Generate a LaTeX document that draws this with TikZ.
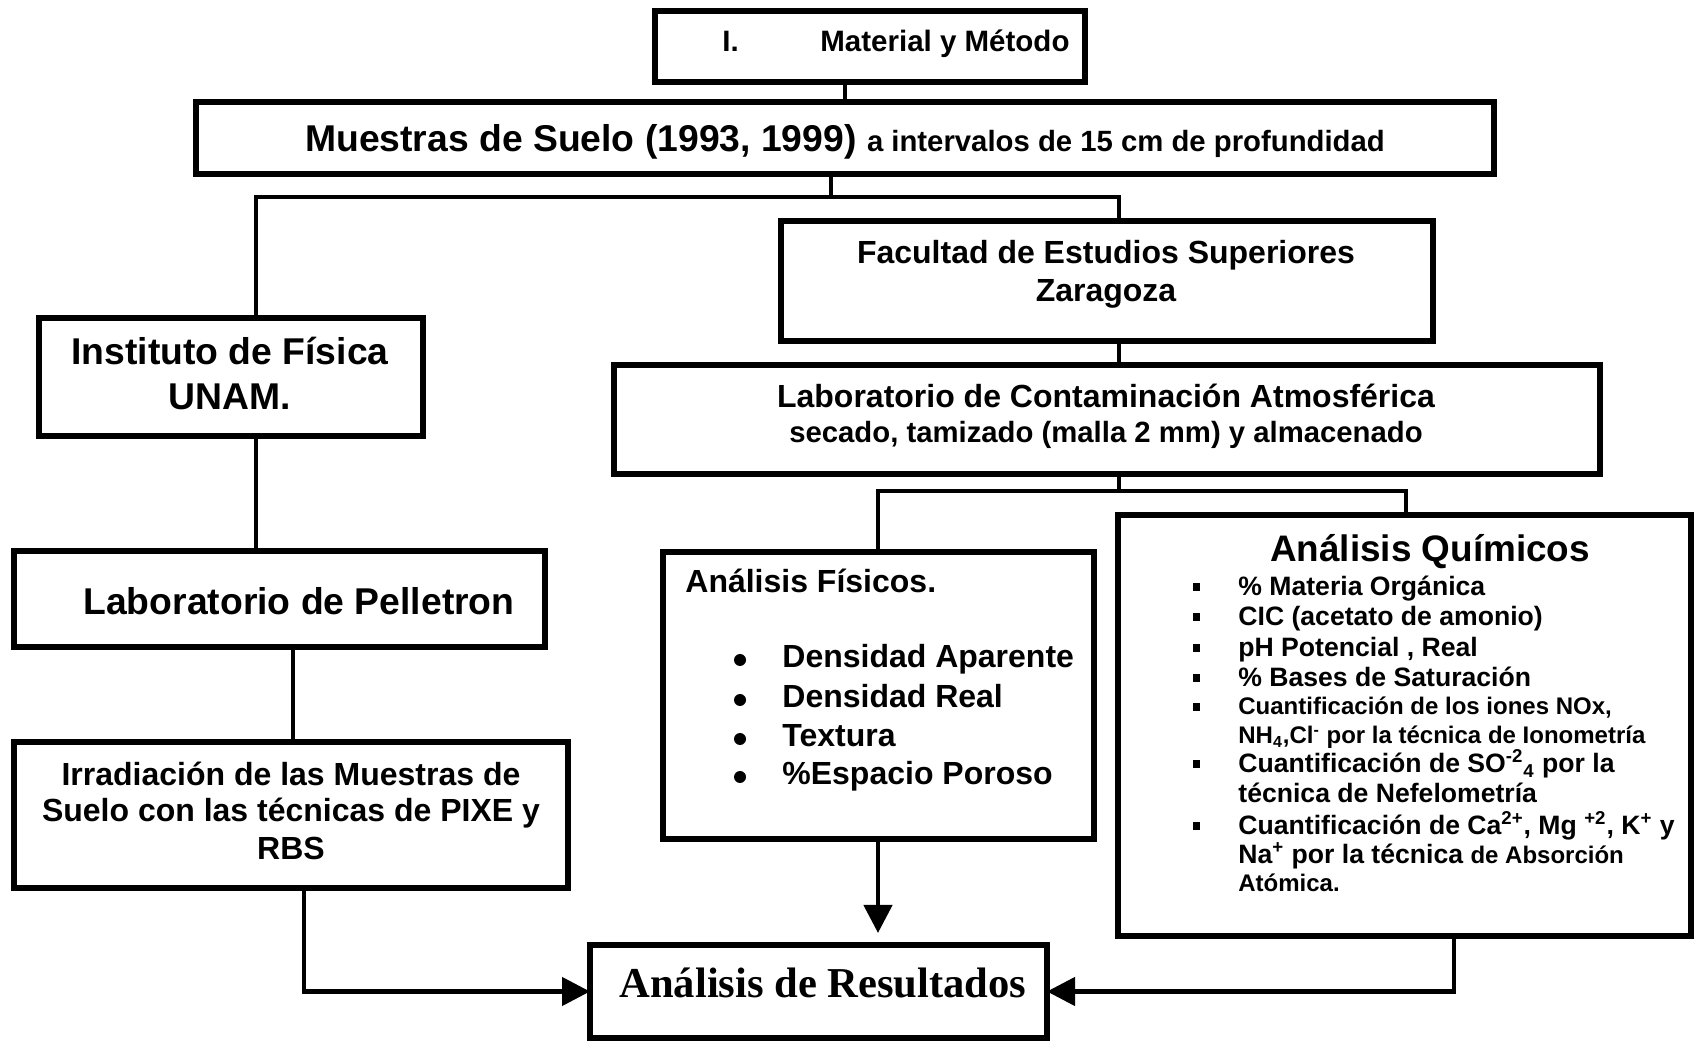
\documentclass[tikz,border=0pt]{standalone}
\usepackage{fontspec}
\setmainfont{Liberation Sans}
\newfontfamily\serifbf{Liberation Serif}
\usetikzlibrary{arrows.meta}
\newcommand{\myfs}[1]{\fontsize{#1}{#1}\selectfont\bfseries}
\begin{document}
\begin{tikzpicture}[x=0.5pt,y=-0.5pt,
  box/.style={draw, line width=2.75pt, rectangle, inner sep=0pt, outer sep=0pt, anchor=north west},
  conn/.style={line width=2.25pt},
  arr/.style={line width=2.25pt, -{Triangle[length=14pt,width=14pt]}},
  txt/.style={anchor=base, inner sep=0pt},
  txtl/.style={anchor=base west, inner sep=0pt}]
\useasboundingbox (0,0) rectangle (1694,1042);
\fill[white] (0,0) rectangle (1694,1042);
% boxes
\node[box, minimum width=215pt, minimum height=35.5pt] (top) at (655,11) {};
\node[box, minimum width=649pt, minimum height=36pt] (mu) at (196,102) {};
\node[box, minimum width=326pt, minimum height=60pt] (fac) at (781,221) {};
\node[box, minimum width=493pt, minimum height=54.5pt] (lab) at (614,365) {};
\node[box, minimum width=192pt, minimum height=59pt] (ins) at (39,318) {};
\node[box, minimum width=265.5pt, minimum height=48pt] (pel) at (14,551) {};
\node[box, minimum width=277pt, minimum height=73pt] (irr) at (14,742) {};
\node[box, minimum width=215.5pt, minimum height=143.5pt] (fis) at (663,552) {};
\node[box, minimum width=286.5pt, minimum height=210.5pt] (qui) at (1118,515) {};
\node[box, minimum width=228.5pt, minimum height=46.5pt] (res) at (590,945) {};
% connectors
\draw[conn] (845,0 |- top.south) -- (845,0 |- mu.north);
\coordinate (b1) at (831,197);
\draw[conn] (831,0 |- mu.south) -- (b1);
\draw[conn] (256,0 |- ins.north) |- (b1) -| (1119,0 |- fac.north);
\draw[conn] (1119,0 |- fac.south) -- (1119,0 |- lab.north);
\coordinate (b2) at (1119,491);
\draw[conn] (1119,0 |- lab.south) -- (b2);
\draw[conn] (878,0 |- fis.north) |- (b2) -| (1406,0 |- qui.north);
\draw[conn] (256,0 |- ins.south) -- (256,0 |- pel.north);
\draw[conn] (293,0 |- pel.south) -- (293,0 |- irr.north);
\draw[arr] (304,0 |- irr.south) |- (res.west);
\draw[arr, shorten >=6pt] (878,0 |- fis.south) -- (878,0 |- res.north);
\draw[arr] (1454,0 |- qui.south) |- (res.east);
% texts
\node[txtl, font=\myfs{14.75}] (t1a) at (722,52) {I.};
\node[txtl, font=\myfs{14.75}] (t1b) at (820,52) {Material y Método};
\node[txt] (mut) at (845,152) {\myfs{18.65}Muestras de Suelo (1993, 1999) \myfs{14.65}a intervalos de 15 cm de profundidad};
\node[txt, font=\myfs{16}] (fac1) at (1106,264) {Facultad de Estudios Superiores};
\node[txt, font=\myfs{16}] (fac2) at (1106,302) {Zaragoza};
\node[txt, font=\myfs{16}] (lab1) at (1106,408) {Laboratorio de Contaminación Atmosférica};
\node[txt, font=\myfs{14.65}] (lab2) at (1106,443) {secado, tamizado (malla 2 mm) y almacenado};
\node[txt, font=\myfs{18.65}] (ins1) at (230,365) {Instituto de Física};
\node[txt, font=\myfs{18.65}] (ins2) at (230,410) {UNAM.};
\node[txt, font=\myfs{18.65}] (pel1) at (299,615) {Laboratorio de Pelletron};
\node[txt, font=\myfs{16}] (irr1) at (291,786) {Irradiación de las Muestras de};
\node[txt, font=\myfs{16}] (irr2) at (291,822) {Suelo con las técnicas de PIXE y};
\node[txt, font=\myfs{16}] (irr3) at (291,860) {RBS};
% fisicos
\node[txtl, font=\myfs{16}] (fist) at (685,593) {Análisis Físicos.};
\node[txtl, font=\myfs{16}] (fis1) at (782,668) {Densidad Aparente};
\node[txtl, font=\myfs{16}] (fis2) at (782,708) {Densidad Real};
\node[txtl, font=\myfs{16}] (fis3) at (782,747) {Textura};
\node[txtl, font=\myfs{16}] (fis4) at (782,785) {\%Espacio Poroso};
\foreach \yy in {660,700,739,777} \fill (740,\yy) circle (6);
% quimicos
\node[txt, font=\myfs{18.45}] (quit) at (1430,562) {Análisis Químicos};
\node[txtl, font=\myfs{13.3}] (q1) at (1238,596) {\% Materia Orgánica};
\node[txtl, font=\myfs{13.3}] (q2) at (1238,626) {CIC (acetato de amonio)};
\node[txtl, font=\myfs{13.3}] (q3) at (1238,657) {pH Potencial , Real};
\node[txtl, font=\myfs{13.3}] (q4) at (1238,687) {\% Bases de Saturación};
\node[txtl, font=\myfs{12}] (q5a) at (1238,715) {Cuantificación de los iones NOx,};
\node[txtl, font=\myfs{12}] (q5b) at (1238,744) {NH\textsubscript{4},Cl\textsuperscript{-} por la técnica de Ionometría};
\node[txtl, font=\myfs{13.3}] (q6a) at (1238,773) {Cuantificación de SO\textsuperscript{-2}\textsubscript{4} por la};
\node[txtl, font=\myfs{13.3}] (q6b) at (1238,803) {técnica de Nefelometría};
\node[txtl, font=\myfs{13.3}] (q7a) at (1238,835) {Cuantificación de Ca\textsuperscript{2+}, Mg \textsuperscript{+2}, K\textsuperscript{+} y};
\node[txtl, font=\myfs{13.3}] (q7b) at (1238,864) {Na\textsuperscript{+} por la técnica {\myfs{12}de Absorción}};
\node[txtl, font=\myfs{12}] (q7c) at (1238,892) {Atómica.};
\foreach \yy in {587,617,648,678,707,764,826} \fill (1192.5,\yy-3.75) rectangle ++(7.5,7.5);
% resultados
\node[txt] (rest) at (823,998) {\serifbf\myfs{21.3}Análisis de Resultados};
\end{tikzpicture}
\end{document}
